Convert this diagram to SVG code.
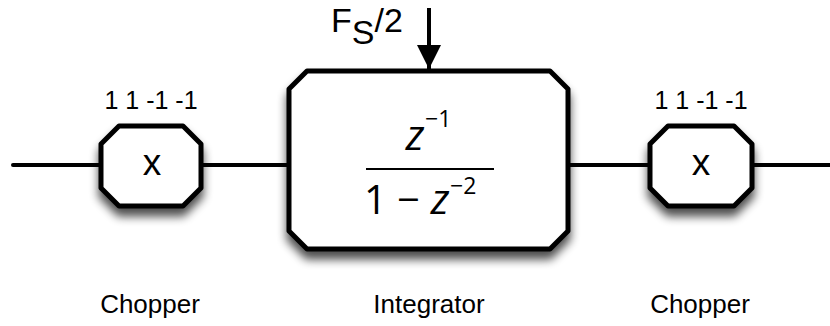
<svg xmlns="http://www.w3.org/2000/svg" width="830" height="326" viewBox="0 0 830 326">
<style>
.box{fill:#fff;stroke:#000;stroke-width:5;stroke-linejoin:round}
.wire{stroke:#000;stroke-width:4;fill:none;stroke-linecap:round}
.lbl{font-family:"Liberation Sans",Arial,sans-serif;fill:#000}
.math{font-family:"Open Sans","Liberation Sans",sans-serif;fill:#000}
</style>
<defs>
<filter id="sh" x="-20%" y="-20%" width="140%" height="160%">
<feGaussianBlur in="SourceAlpha" stdDeviation="5"/>
<feOffset dx="0" dy="8" result="b"/>
<feComponentTransfer><feFuncA type="linear" slope="0.7"/></feComponentTransfer>
<feMerge><feMergeNode/><feMergeNode in="SourceGraphic"/></feMerge>
</filter>
<marker id="ah" viewBox="0 0 10 10" refX="10" refY="5" markerWidth="7.5" markerHeight="6" markerUnits="strokeWidth" orient="auto">
<path d="M0,0 L10,5 L0,10 z" fill="#000"/>
</marker>
</defs>
<g id="connectors">
<line class="wire" x1="13" y1="165" x2="101" y2="165"/>
<line class="wire" x1="201" y1="165" x2="289" y2="165"/>
<line class="wire" x1="567" y1="165" x2="650" y2="165"/>
<line class="wire" x1="752" y1="165" x2="830" y2="165"/>
<line x1="429" y1="8" x2="429" y2="69" stroke="#000" stroke-width="4" marker-end="url(#ah)"/>
</g>
<g id="chopper1">
<path class="box" filter="url(#sh)" d="M119,126 H183 L201,144 V188 L183,206 H119 L101,188 V144 Z"/>
<text class="lbl" x="152" y="175" font-size="37" text-anchor="middle">x</text>
<text class="lbl" x="151" y="109" font-size="25" text-anchor="middle">1 1 -1 -1</text>
<text class="lbl" x="150" y="313" font-size="26" text-anchor="middle">Chopper</text>
</g>
<g id="integrator">
<path class="box" filter="url(#sh)" d="M307,71 H550 L568,89 V231 L550,249 H307 L289,231 V89 Z"/>
<text class="math" x="415" y="150" font-size="42" font-style="italic" text-anchor="middle">z</text>
<text class="math" x="425" y="127" font-size="23">−1</text>
<line x1="366" y1="169" x2="494" y2="169" stroke="#000" stroke-width="2"/>
<text class="math" x="364" y="214" font-size="40">1</text>
<text class="math" x="397" y="214" font-size="40">−</text>
<text class="math" x="440" y="214" font-size="42" font-style="italic" text-anchor="middle">z</text>
<text class="math" x="450" y="194" font-size="23">−2</text>
<text class="lbl" x="429" y="313" font-size="26" text-anchor="middle">Integrator</text>
<text class="lbl" x="331" y="32" font-size="34">F<tspan dy="12">S</tspan><tspan dy="-12">/2</tspan></text>
</g>
<g id="chopper2">
<path class="box" filter="url(#sh)" d="M668,126 H734 L752,144 V188 L734,206 H668 L650,188 V144 Z"/>
<text class="lbl" x="701" y="175" font-size="37" text-anchor="middle">x</text>
<text class="lbl" x="701" y="109" font-size="25" text-anchor="middle">1 1 -1 -1</text>
<text class="lbl" x="700" y="313" font-size="26" text-anchor="middle">Chopper</text>
</g>
</svg>
